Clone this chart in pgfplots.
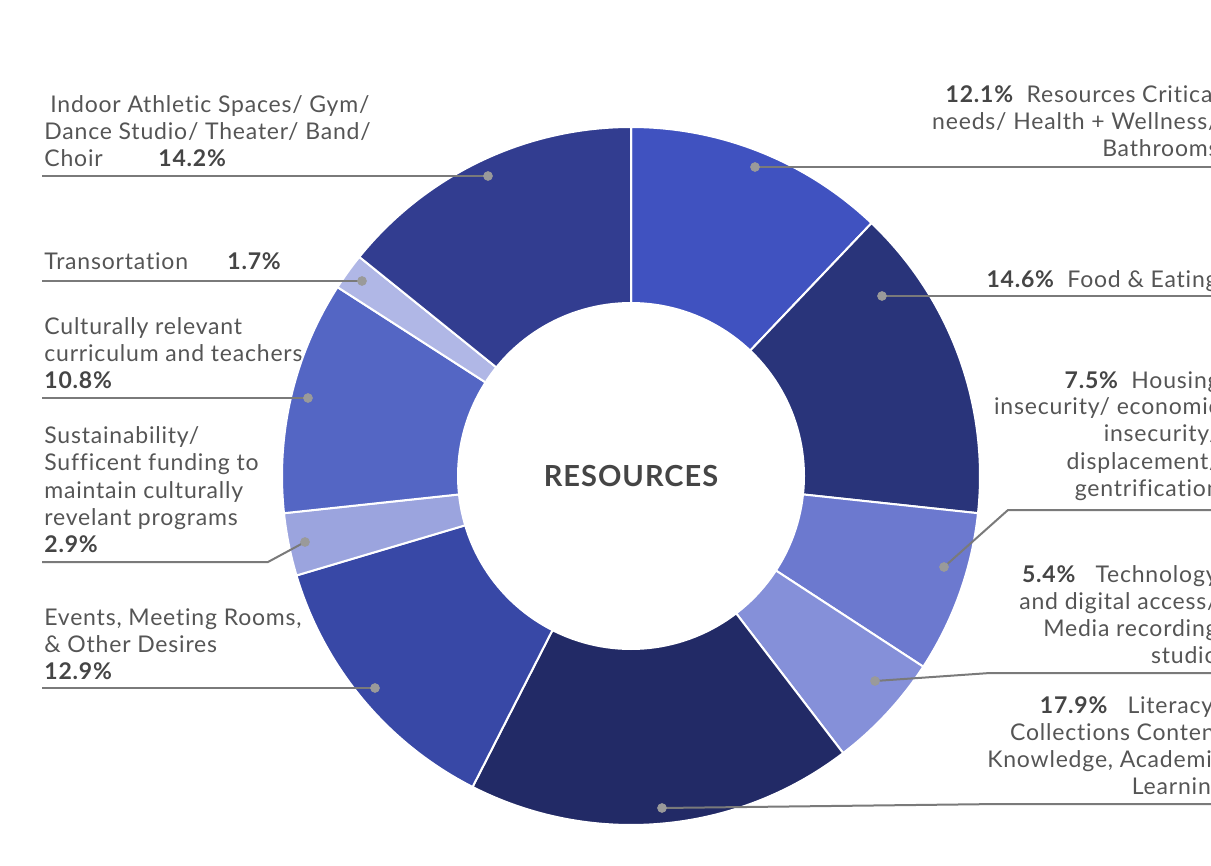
\documentclass[border=0pt]{standalone}
\usepackage{pgfplots}
\pgfplotsset{compat=1.18}
\usepackage{fontspec}
\setmainfont{Lato}[LetterSpace=3.5, Ligatures=NoCommon]
\definecolor{s1}{HTML}{4052C0}
\definecolor{s2}{HTML}{29347A}
\definecolor{s3}{HTML}{6C79CF}
\definecolor{s4}{HTML}{8590D9}
\definecolor{s5}{HTML}{222A66}
\definecolor{s6}{HTML}{3848A6}
\definecolor{s7}{HTML}{9BA4DE}
\definecolor{s8}{HTML}{5466C4}
\definecolor{s9}{HTML}{B0B7E6}
\definecolor{s10}{HTML}{323D90}
\definecolor{txt}{HTML}{555555}
\definecolor{pct}{HTML}{454545}
\definecolor{lead}{HTML}{7A7A7A}
\definecolor{dotc}{HTML}{9A9A9A}
\tikzset{lbl/.style={font=\fontsize{11.5pt}{13.5pt}\selectfont, text=txt, inner sep=0pt}}
\newcommand\pc[1]{\textcolor{pct}{\bfseries #1}}
\begin{document}
\begin{tikzpicture}
\useasboundingbox (0,0) rectangle (605.5pt,433pt);
\clip (0,0) rectangle (605.5pt,433pt);
\begin{axis}[at={(0,0)}, anchor=south west, scale only axis,
  width=605.5pt, height=433pt, xmin=0, xmax=1211, ymin=0, ymax=866,
  y dir=reverse, hide axis, clip=false, trig format plots=deg]
% ---- left labels
\node[lbl, anchor=base west] at (axis cs:50,113) {Indoor Athletic Spaces/ Gym/};
\node[lbl, anchor=base west] at (axis cs:44,140) {Dance Studio/ Theater/ Band/};
\node[lbl, anchor=base west] at (axis cs:44,167) {Choir};
\node[lbl, anchor=base west] at (axis cs:158,167) {\pc{14.2\%}};
\node[lbl, anchor=base west] at (axis cs:44,270) {Transortation};
\node[lbl, anchor=base west] at (axis cs:227,270) {\pc{1.7\%}};
\node[lbl, anchor=base west] at (axis cs:44,335) {Culturally relevant};
\node[lbl, anchor=base west] at (axis cs:44,362) {curriculum and teachers};
\node[lbl, anchor=base west] at (axis cs:44,389) {\pc{10.8\%}};
\node[lbl, anchor=base west] at (axis cs:44,444) {Sustainability/};
\node[lbl, anchor=base west] at (axis cs:44,471) {Sufficent funding to};
\node[lbl, anchor=base west] at (axis cs:44,498) {maintain culturally};
\node[lbl, anchor=base west] at (axis cs:44,525) {revelant programs};
\node[lbl, anchor=base west] at (axis cs:44,552) {\pc{2.9\%}};
\node[lbl, anchor=base west] at (axis cs:44,625) {Events, Meeting Rooms,};
\node[lbl, anchor=base west] at (axis cs:44,652) {\& Other Desires};
\node[lbl, anchor=base west] at (axis cs:44,679) {\pc{12.9\%}};
% ---- right labels
\node[lbl, anchor=base east] at (axis cs:1219,103) {\pc{12.1\%}\ \ Resources Critical};
\node[lbl, anchor=base east] at (axis cs:1219,130) {needs/ Health + Wellness/};
\node[lbl, anchor=base east] at (axis cs:1219,157) {Bathrooms};
\node[lbl, anchor=base east] at (axis cs:1218,288) {\pc{14.6\%}\ \ Food \& Eating};
\node[lbl, anchor=base east] at (axis cs:1220,388) {\pc{7.5\%}\ \ Housing};
\node[lbl, anchor=base east] at (axis cs:1220,415) {insecurity/ economic};
\node[lbl, anchor=base east] at (axis cs:1220,442) {insecurity/};
\node[lbl, anchor=base east] at (axis cs:1220,469) {displacement/};
\node[lbl, anchor=base east] at (axis cs:1220,496) {gentrification};
\node[lbl, anchor=base east] at (axis cs:1218,582) {\pc{5.4\%}\ \ \ Technology};
\node[lbl, anchor=base east] at (axis cs:1218,609) {and digital access/};
\node[lbl, anchor=base east] at (axis cs:1218,636) {Media recording};
\node[lbl, anchor=base east] at (axis cs:1218,663) {studio};
\node[lbl, anchor=base east] at (axis cs:1224,713) {\pc{17.9\%}\ \ \ Literacy/};
\node[lbl, anchor=base east] at (axis cs:1224,740) {Collections Content};
\node[lbl, anchor=base east] at (axis cs:1224,767) {Knowledge, Academic};
\node[lbl, anchor=base east] at (axis cs:1224,794) {Learning};
% ---- slices
\def\startang{0}
\foreach \v/\c in {12.1/s1,14.6/s2,7.5/s3,5.4/s4,17.9/s5,12.9/s6,2.9/s7,10.8/s8,1.7/s9,14.2/s10} {
  \pgfmathsetmacro\endang{\startang+3.6*\v}
  \edef\temp{\noexpand\addplot[fill=\c, draw=white, line width=1pt, line join=round,
     domain=\startang:\endang, samples=80, variable=\noexpand\t]
     ({631+349*sin(\noexpand\t)},{476-349*cos(\noexpand\t)}) -- (axis cs:631,476) -- cycle;}
  \temp
  \xdef\startang{\endang}
}
\addplot[fill=white, draw=none, domain=0:360, samples=181, variable=\t]
  ({631+174*sin(\t)},{476-174*cos(\t)}) -- cycle;
\node[font=\fontsize{14.5pt}{16pt}\selectfont\bfseries, text=pct] at (axis cs:631,476) {RESOURCES};
% ---- leader lines
\addplot[lead, line width=1pt] coordinates {(42,176) (488,176)};
\addplot[lead, line width=1pt] coordinates {(42,281) (362,281)};
\addplot[lead, line width=1pt] coordinates {(42,398) (308,398)};
\addplot[lead, line width=1pt] coordinates {(42,562) (268,562) (305,542)};
\addplot[lead, line width=1pt] coordinates {(42,688) (375,688)};
\addplot[lead, line width=1pt] coordinates {(755,167) (1211,167)};
\addplot[lead, line width=1pt] coordinates {(882,296) (1211,296)};
\addplot[lead, line width=1pt] coordinates {(944,567) (1008,510) (1211,510)};
\addplot[lead, line width=1pt] coordinates {(875,681) (990,673) (1211,673)};
\addplot[lead, line width=1pt] coordinates {(662,808) (1000,804) (1211,804)};
\addplot[only marks, mark=*, mark size=2.2pt, mark options={fill=dotc, draw=dotc}]
  coordinates {(488,176) (362,281) (308,398) (305,542) (375,688)
               (755,167) (882,296) (944,567) (875,681) (662,808)};
\end{axis}
\end{tikzpicture}
\end{document}
